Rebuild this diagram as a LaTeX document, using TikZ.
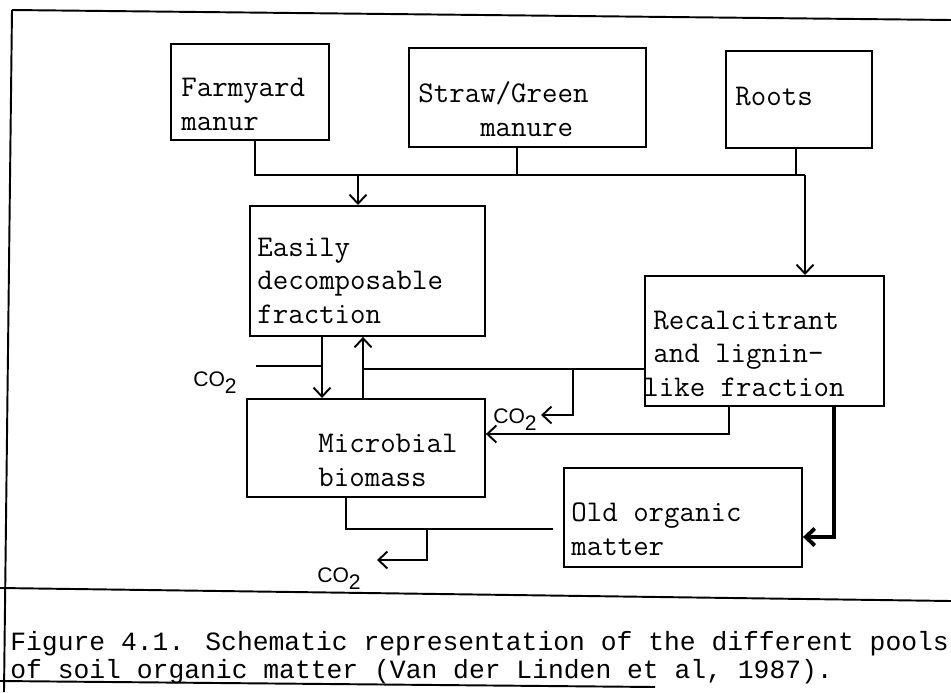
\documentclass[tikz,border=0pt]{standalone}
\usepackage{fontspec}
\usetikzlibrary{arrows.meta}
\newfontfamily\capfont{Liberation Mono}
\newfontfamily\gasfont{Liberation Sans}

\tikzset{
  pool/.style 2 args={draw,line width=1.1pt,anchor=north west,inner sep=0pt,
    minimum width=#1*0.2mm,minimum height=#2*0.2mm},
  pooltext/.style={anchor=base west,align=left,inner sep=0pt,
    font=\ttfamily\addfontfeature{FakeBold=1}\fontsize{17.1}{18.8}\selectfont},
  gas/.style={anchor=base west,inner sep=0pt,font=\gasfont\fontsize{12}{14}\selectfont},
  captext/.style={anchor=base west,inner sep=0pt,font=\capfont\fontsize{15}{17}\selectfont},
  flow/.style={line width=1.1pt},
  feed/.style={-{Straight Barb[length=1.8mm,width=3.4mm]}},
}

\begin{document}
\begin{tikzpicture}[x=0.2mm,y=-0.2mm]
  \useasboundingbox (0,0) rectangle (951,692);
  \pgfmathsetmacro\busy{175}   % level of the line joining the three inputs

% frame of the page
  \draw[flow] (12,10) -- (951,20);
  \draw[flow] (12,10) -- (4,692);
  \draw[flow] (0,588) -- (951,601);
  \draw[flow] (0,681) -- (655,687);

% pools
  \node[pool={158}{96}]  (farm)   at (170,43)  {};
  \node[pool={237}{99}]  (straw)  at (408,47)  {};
  \node[pool={146}{97}]  (roots)  at (725,50)  {};
  \node[pool={235}{130}] (easy)   at (249,205) {};
  \node[pool={239}{130}] (recalc) at (644,275) {};
  \node[pool={238}{98}]  (microb) at (246,398) {};
  \node[pool={238}{99}]  (old)    at (563,467) {};

% texts sit on the baseline of their last line
  \node[pooltext] (farmtext)   at ([shift={(11,87)}]farm.north west)    {Farmyard\\manur};
  \node[pooltext] (strawtext)  at ([shift={(10,89)}]straw.north west)   {Straw/Green\\\phantom{Stra}manure};
  \node[pooltext] (rootstext)  at ([shift={(10,55)}]roots.north west)   {Roots};
  \node[pooltext] (easytext)   at ([shift={(8,118)}]easy.north west)    {Easily\\decomposable\\fraction};
  \node[pooltext] (recalctext) at ([shift={(9,121)}]recalc.north west)  {Recalcitrant\\and lignin-\\\hspace*{-2mm}like fraction};
  \node[pooltext] (microbtext) at ([shift={(72,88)}]microb.north west)  {Microbial\\biomass};
  \node[pooltext] (oldtext)    at ([shift={(8,88)}]old.north west)      {Old organic\\matter};

  \node[gas] (co2a) at (193,386) {CO\raisebox{-4.5pt}{2}};
  \node[gas] (co2b) at (493,423) {CO\raisebox{-4.5pt}{2}};
  \node[gas] (co2c) at (317,582) {CO\raisebox{-4.5pt}{2}};

% inputs
  \coordinate (busw) at (255,\busy);
  \coordinate (buse) at (805,\busy);
  \draw[flow] (farm.south -| busw) -- (busw) -- (buse);
  \draw[flow] (straw.south -| 517,0) -- (517,\busy);
  \draw[flow] (roots.south -| 796,0) -- (796,\busy);
  \draw[flow,feed] (358,\busy) -- (easy.north -| 358,0);
  \draw[flow,feed] (buse) -- (buse |- recalc.north);

% exchange between the pools
  \coordinate (co2aend) at (256,366);
  \draw[flow,feed] (easy.south -| 322,0) -- (microb.north -| 322,0);
  \draw[flow] (co2aend -| 322,0) -- (co2aend);
  \draw[flow,feed] (microb.north -| 363,0) -- (easy.south -| 363,0);
  \draw[flow] (recalc.west |- 0,369) -- (363,369);
  \draw[flow,feed,shorten >=0.8mm] (573,369) -- (573,415) -- (co2b.east |- 0,415);
  \draw[flow,feed] (recalc.south -| 729,0) -- (729,434) -- (microb.east |- 0,434);
  \draw[line width=2.2pt,feed] (recalc.south -| 834,0) -- (834,537) -- (old.east |- 0,537);
  \draw[flow,shorten >=2mm] (microb.south -| 346,0) -- (346,529) -- (old.west |- 0,529);
  \coordinate (co2ctip) at (377,560);
  \draw[flow,feed] (427,529) -- (427,560) -- (co2ctip);

% caption
  \node[captext] (caption1) at (10,650) {Figure 4.1. Schematic representation of the different pools};
  \node[captext] (caption2) at (10,678) {of soil organic matter (Van der Linden et al, 1987).};
\end{tikzpicture}
\end{document}
